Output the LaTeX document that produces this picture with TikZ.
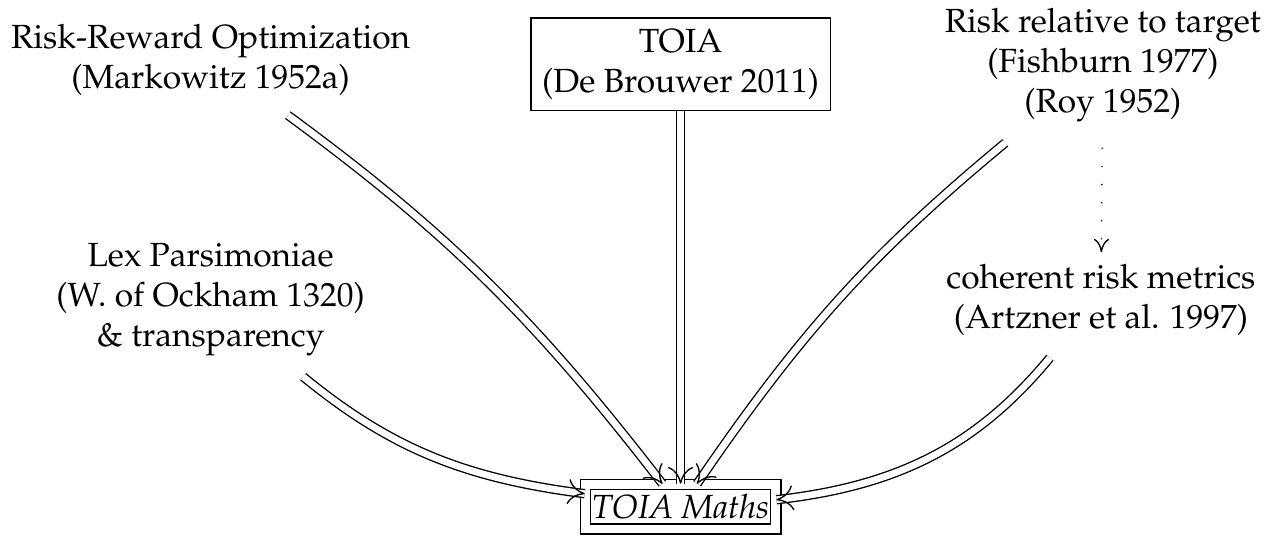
\documentclass[tikz,border=0pt]{standalone}
\usepackage[T1]{fontenc}
\usepackage{mathpazo}
\usetikzlibrary{arrows.meta}

\tikzset{
  idea/.style={align=center},
  source/.style={draw, align=center},
  goal/.style={draw, double, double distance=2.6pt, inner xsep=2pt, inner ysep=3pt, font=\itshape},
  feeds/.style={double, double distance=2pt, shorten <=4pt},
  feedtip/.style={draw=white, -{Computer Modern Rightarrow[length=5pt, width=7.5pt, color=black]}, shorten <=4pt},
  refines/.style={-{Computer Modern Rightarrow[length=4pt, width=4.5pt]}, dash pattern=on 0.4pt off 5pt, shorten <=4pt},
}

\begin{document}
\begin{tikzpicture}
    \useasboundingbox (0,0) rectangle (13.46,5.656);

    \node[idea] (markowitz) at (2.21,5.03) {Risk-Reward Optimization\\(Markowitz 1952a)};
    \node[source] (toia) at (7.14,4.98) {TOIA\\(De Brouwer 2011)};
    \node[idea] (target) at (11.57,4.97) {Risk relative to target\\(Fishburn 1977)\\(Roy 1952)};
    \node[idea] (ockham) at (2.21,2.51) {Lex Parsimoniae\\(W. of Ockham 1320)\\\& transparency};
    \node[idea] (coherent) at (11.55,2.51) {coherent risk metrics\\(Artzner et al. 1997)};
    \node[goal] (maths) at (7.14,0.34) {TOIA Maths};

    % double arrows into the maths box
    \foreach \src/\b in {markowitz/8, target/-8, ockham/-16, coherent/22} {
        \draw[feeds] (\src) to[bend left=\b] (maths);
        \draw[feedtip] (\src) to[bend left=\b] (maths);
    }
    \draw[feeds, shorten <=0pt] (toia) -- (maths);
    \draw[feedtip, shorten <=0pt] (toia) -- (maths);

    \draw[refines] (target) -- (coherent);
\end{tikzpicture}
\end{document}
